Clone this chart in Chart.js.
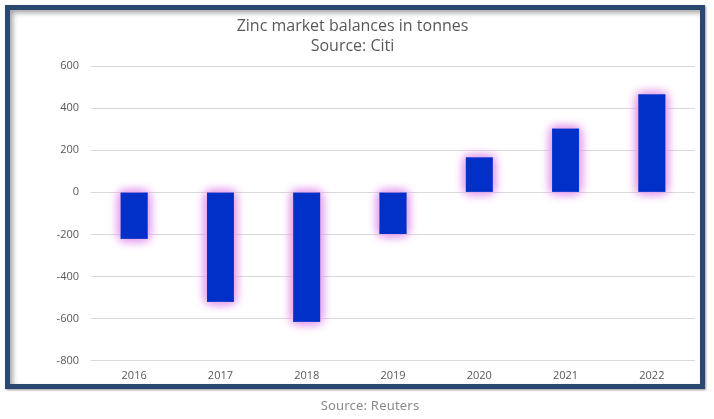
<!DOCTYPE html>
<html>
<head>
<meta charset="utf-8">
<script src="https://cdn.jsdelivr.net/npm/chart.js@4"></script>
<style>
html,body{margin:0;padding:0;background:#fff;width:714px;height:419px;overflow:hidden;}
#frame{position:absolute;left:5px;top:5px;width:690px;height:374px;border:5px solid #2b4870;
  box-shadow:inset 3px 3px 5px rgba(0,0,0,0.35), 1px 1px 2px rgba(0,0,0,0.4);background:#fff;}
#c{position:absolute;left:0;top:0;}
#foot{position:absolute;left:0;width:740px;top:396px;text-align:center;font-family:"Noto Sans",sans-serif;font-size:13px;color:#8a8a8a;letter-spacing:0.2px;}
</style>
</head>
<body>
<div id="frame"></div>
<canvas id="c" width="714" height="419"></canvas>
<div id="foot">Source: Reuters</div>
<script>
const categories = ["2016","2017","2018","2019","2020","2021","2022"];
const balances = [-220, -520, -615, -198, 165, 302, 465];
const titleLines = ["Zinc market balances in tonnes","Source: Citi"];

const glow = {
  id:'glow',
  beforeDatasetDraw(chart, args){
    const ctx = chart.ctx;
    ctx.save();
    ctx.shadowColor = 'rgba(228,160,236,1)';
    ctx.shadowBlur = 11;
    ctx.shadowOffsetX = 0;
    ctx.shadowOffsetY = 0;
    args.meta.controller.draw();
    args.meta.controller.draw();
  },
  afterDatasetDraw(chart){ chart.ctx.restore(); }
};

new Chart(document.getElementById('c'), {
  type:'bar',
  data:{labels:categories, datasets:[{data:balances, backgroundColor:'#0030C8', borderWidth:0,
    categoryPercentage:1, barPercentage:0.31}]},
  plugins:[glow],
  options:{
    responsive:false, animation:false,
    layout:{padding:{left:10,right:19,top:16,bottom:29}},
    plugins:{
      legend:{display:false}, tooltip:{enabled:false},
      title:{display:true, text:titleLines, color:'#595959',
        font:{family:'"Open Sans", sans-serif', size:16, weight:'normal', lineHeight:1.25},
        padding:{top:0,bottom:10}}
    },
    scales:{
      x:{grid:{display:false, drawTicks:false}, border:{display:false},
        ticks:{color:'#595959', font:{family:'"Open Sans", sans-serif', size:11}, padding:8}},
      y:{min:-800, max:600,
        afterFit(s){ s.width = 81; },
        grid:{color:'#d9d9d9', drawTicks:false}, border:{display:false},
        ticks:{stepSize:200, color:'#595959', font:{family:'"Open Sans", sans-serif', size:11}, padding:12}}
    }
  }
});
</script>
</body>
</html>
